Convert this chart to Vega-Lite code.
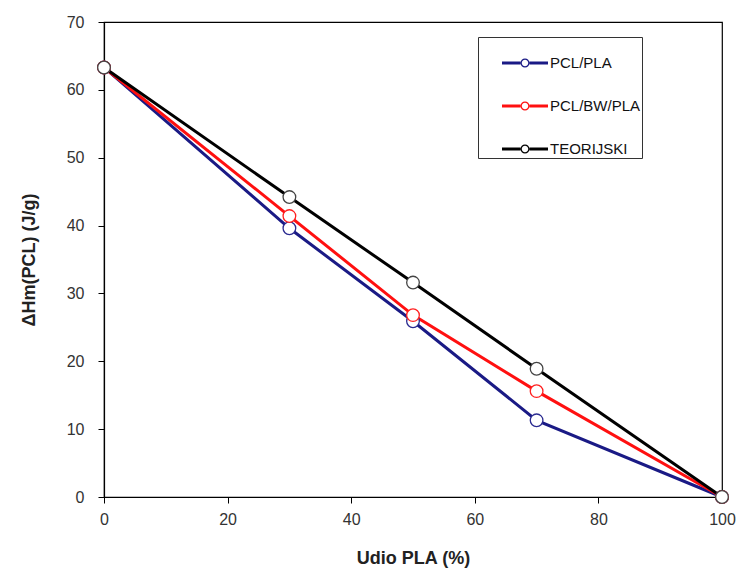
{
  "$schema": "https://vega.github.io/schema/vega-lite/v6.json",
  "width": 618,
  "height": 475,
  "autosize": "none",
  "padding": {"left": 104, "top": 22, "right": 19, "bottom": 78},
  "background": "white",
  "config": {
    "font": "Liberation Sans",
    "view": {"stroke": "black", "strokeWidth": 1.2},
    "axis": {
      "domainColor": "black",
      "domainWidth": 1.2,
      "tickColor": "black",
      "tickSize": 6,
      "grid": false,
      "labelFlush": false,
      "labelFont": "Liberation Sans",
      "labelFontSize": 16,
      "labelColor": "#333333",
      "titleFont": "Liberation Sans",
      "titleFontWeight": "bold",
      "titleColor": "#222222",
      "titleFontSize": 18
    }
  },
  "data": {
    "values": [
      {"x": 0, "y": 63.3, "s": "PCL/PLA"},
      {"x": 30, "y": 39.6, "s": "PCL/PLA"},
      {"x": 50, "y": 25.9, "s": "PCL/PLA"},
      {"x": 70, "y": 11.3, "s": "PCL/PLA"},
      {"x": 100, "y": 0, "s": "PCL/PLA"},
      {"x": 0, "y": 63.3, "s": "PCL/BW/PLA"},
      {"x": 30, "y": 41.4, "s": "PCL/BW/PLA"},
      {"x": 50, "y": 26.8, "s": "PCL/BW/PLA"},
      {"x": 70, "y": 15.6, "s": "PCL/BW/PLA"},
      {"x": 100, "y": 0, "s": "PCL/BW/PLA"},
      {"x": 0, "y": 63.3, "s": "TEORIJSKI"},
      {"x": 30, "y": 44.2, "s": "TEORIJSKI"},
      {"x": 50, "y": 31.6, "s": "TEORIJSKI"},
      {"x": 70, "y": 18.9, "s": "TEORIJSKI"},
      {"x": 100, "y": 0, "s": "TEORIJSKI"}
    ]
  },
  "encoding": {
    "x": {
      "field": "x", "type": "quantitative",
      "scale": {"domain": [0, 100], "nice": false},
      "axis": {"values": [0, 20, 40, 60, 80, 100], "title": "Udio PLA (%)", "labelPadding": 8, "titlePadding": 22, "titleFontSize": 18}
    },
    "y": {
      "field": "y", "type": "quantitative",
      "scale": {"domain": [0, 70], "nice": false},
      "axis": {"values": [0, 10, 20, 30, 40, 50, 60, 70], "title": "ΔHm(PCL) (J/g)", "labelPadding": 14, "titlePadding": 28}
    },
    "color": {
      "field": "s", "type": "nominal",
      "scale": {"domain": ["PCL/PLA", "PCL/BW/PLA", "TEORIJSKI"], "range": ["#1a1a85", "#ff1010", "#000000"]},
      "legend": {
        "title": null,
        "orient": "none",
        "legendX": 374,
        "legendY": 15,
        "strokeColor": "#333333",
        "padding": 1,
        "rowPadding": 10,
        "symbolOffset": 21,
        "labelFontSize": 15,
        "labelFont": "Liberation Sans",
        "labelColor": "#111111",
        "labelOffset": 0,
        "symbolSize": 2500,
        "symbolType": "M-0.92,-0.06 H-0.18 V0.06 H-0.92 Z M0.18,-0.06 H0.92 V0.06 H0.18 Z M-0.18,0 A0.18,0.18 0 1,1 0.18,0 A0.18,0.18 0 1,1 -0.18,0 Z M-0.13,0 A0.13,0.13 0 1,0 0.13,0 A0.13,0.13 0 1,0 -0.13,0 Z",
        "symbolStrokeWidth": 0,
        "encode": {
          "symbols": {"update": {"fill": {"scale": "color", "field": "value"}, "fillOpacity": {"value": 1}, "strokeWidth": {"value": 0}}},
          "legend": {"update": {"width": {"value": 194}, "height": {"value": 133}}}
        }
      }
    },
    "order": {"field": "x", "type": "quantitative"}
  },
  "layer": [
    {"mark": {"type": "line", "strokeWidth": 3}},
    {"mark": {"type": "point", "shape": "circle", "filled": true, "fill": "white", "size": 160, "strokeWidth": 1.3, "opacity": 1}, "encoding": {"stroke": {"field": "s", "type": "nominal", "scale": {"domain": ["PCL/PLA", "PCL/BW/PLA", "TEORIJSKI"], "range": ["#2a2a90", "#ff2020", "#444444"]}, "legend": null}}}
  ]
}
